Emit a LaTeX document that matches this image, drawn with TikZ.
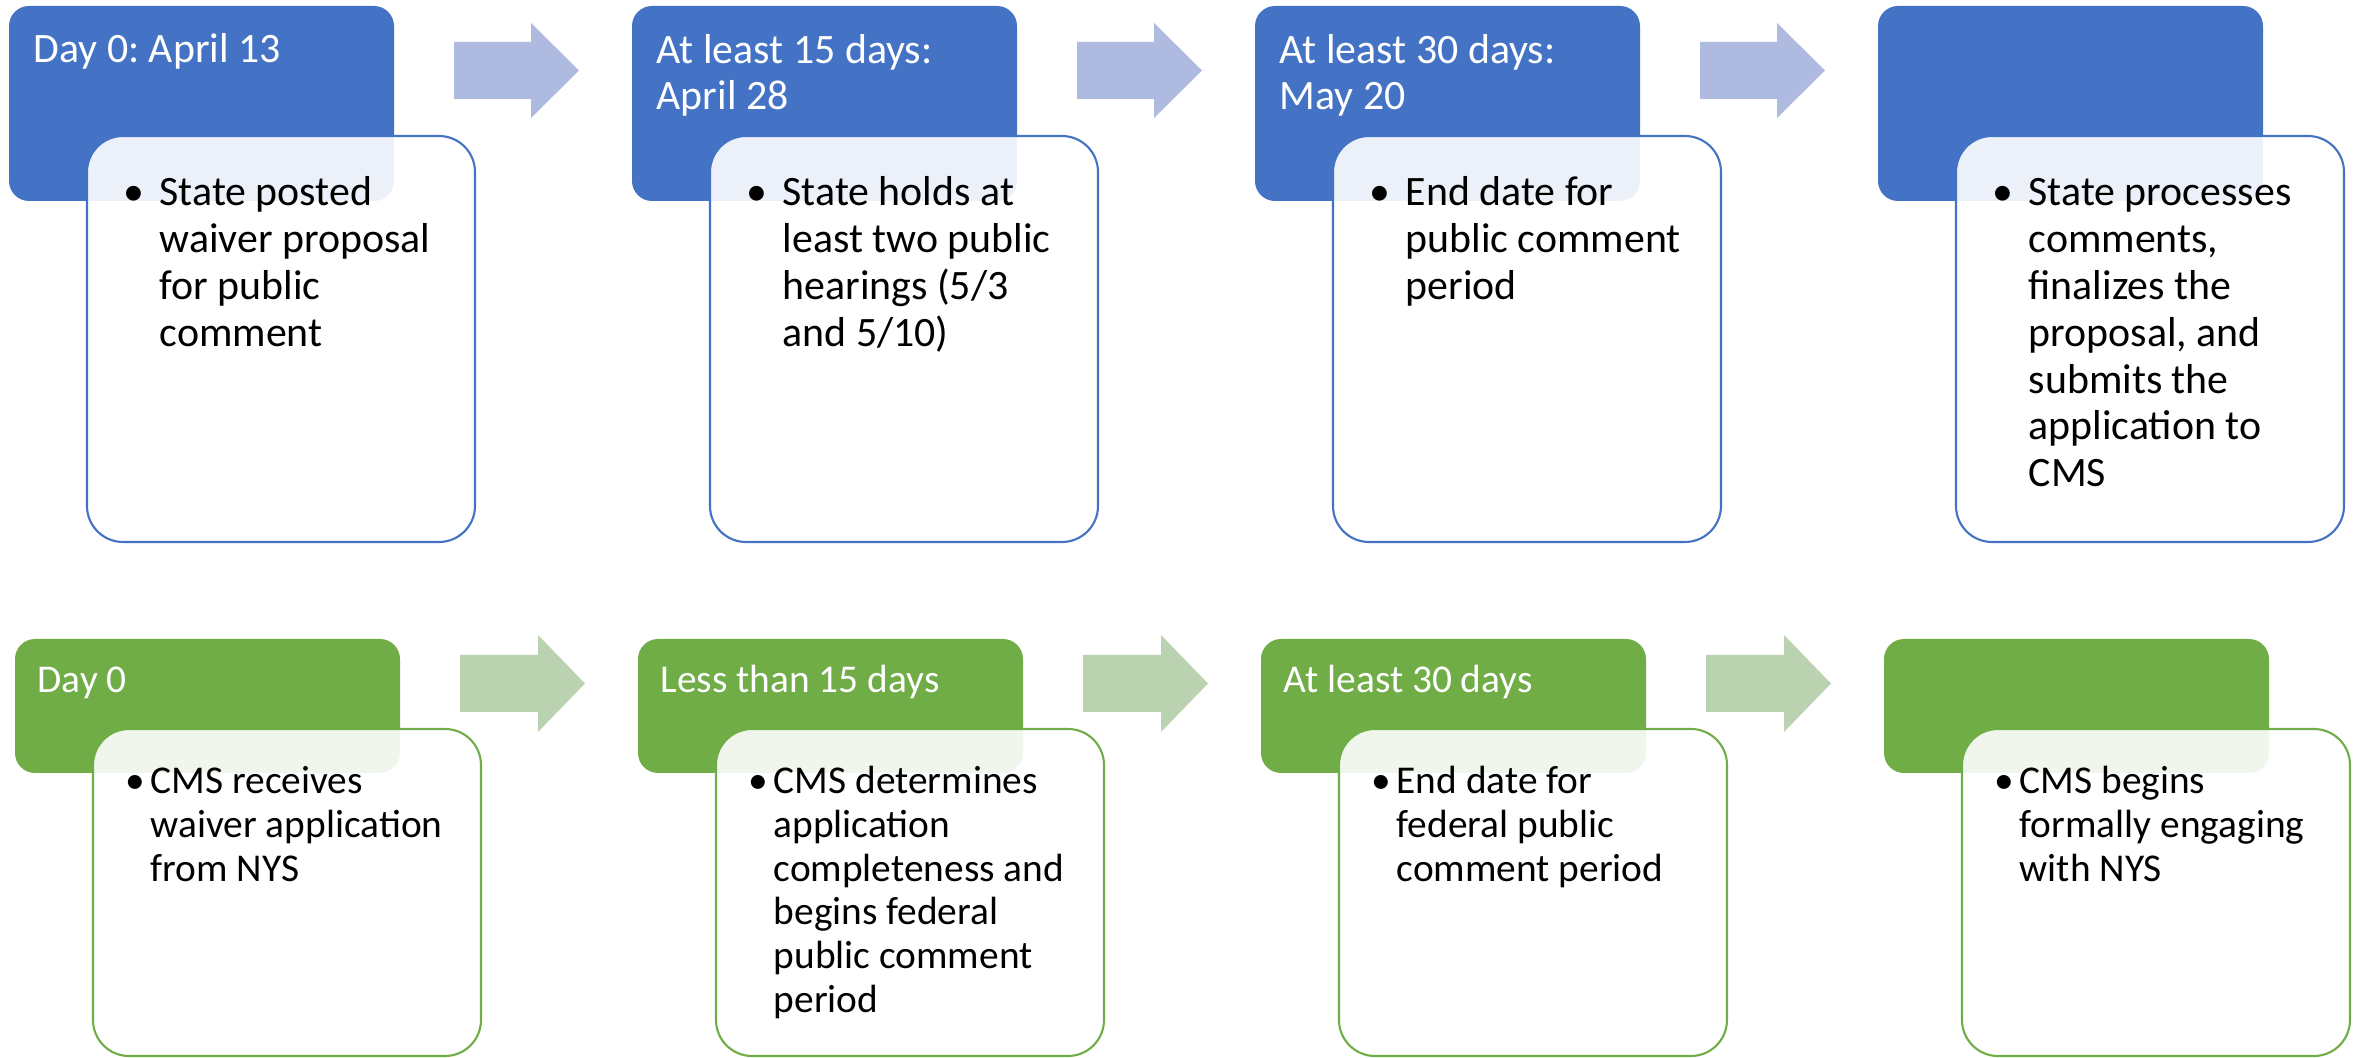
\documentclass[tikz,border=0pt]{standalone}
\usepackage{fontspec}
\setmainfont{Carlito}
\usetikzlibrary{positioning}
\frenchspacing

\definecolor{hdblue}{RGB}{68,114,196}
\definecolor{arblue}{RGB}{174,186,223}
\definecolor{hdgreen}{RGB}{112,173,71}
\definecolor{argreen}{RGB}{187,210,177}

\newcommand{\toprowfont}{\fontsize{11.9}{13.3}\selectfont}
\newcommand{\botrowfont}{\fontsize{11.2}{12.4}\selectfont}
\newcommand{\bulletlines}[2]{\makebox[0pt]{\textbullet}\hspace{#1}\begin{tabular}[t]{@{}l@{}}#2\end{tabular}}

\tikzset{
  header/.style={rounded corners=0.2cm},
  card/.style={fill=white, fill opacity=0.9, rounded corners=0.36cm, line width=0.6pt},
  headtext/.style={anchor=base west, inner sep=0pt, text=white, align=left},
  cardtext/.style={anchor=base west, inner sep=0pt}
}

\begin{document}
\begin{tikzpicture}[x=0.01cm,y=-0.01cm]
  \useasboundingbox (0,0) rectangle (2359,1058);

  % state timeline (top row)
  \foreach \i in {0,1,2,3} {
    \fill[hdblue, header, shift={(623*\i,0)}] (9,6) rectangle (394,201);
    \draw[card, draw=hdblue, shift={(623*\i,0)}] (87,136) rectangle (475,542);
  }
  \foreach \i in {0,1,2}
    \fill[arblue, shift={(623*\i,0)}] (454,42) -- (531,42) -- (531,23) -- (579,70.5)
      -- (531,118) -- (531,99) -- (454,99) -- cycle;

  % base of a two-line node is its last line
  \node[headtext, font=\toprowfont] (th1) at (33,63) {Day 0: April 13};
  \node[headtext, font=\toprowfont] (th2) at (656,110) {At least 15 days:\\April 28};
  \node[headtext, font=\toprowfont] (th3) at (1279,110) {At least 30 days:\\May 20};

  \node[cardtext, font=\toprowfont] (tb1) at (133,206)
    {\bulletlines{0.26cm}{State posted\\waiver proposal\\for public\\comment}};
  \node[cardtext, font=\toprowfont] (tb2) at (756,206)
    {\bulletlines{0.26cm}{State holds at\\least two public\\hearings (5/3\\and 5/10)}};
  \node[cardtext, font=\toprowfont] (tb3) at (1379,206)
    {\bulletlines{0.26cm}{End date for\\public comment\\period}};
  \node[cardtext, font=\toprowfont] (tb4) at (2002,206)
    {\bulletlines{0.26cm}{State processes\\comments,\\finalizes the\\proposal, and\\submits the\\application to\\CMS}};

  % federal timeline (bottom row)
  \foreach \i in {0,1,2,3} {
    \fill[hdgreen, header, shift={(623*\i,0)}] (15,639) rectangle (400,773);
    \draw[card, draw=hdgreen, shift={(623*\i,0)}] (93,729) rectangle (481,1056);
  }
  \foreach \i in {0,1,2}
    \fill[argreen, shift={(623*\i,0)}] (460,655) -- (538,655) -- (538,635) -- (585,683.5)
      -- (538,732) -- (538,712) -- (460,712) -- cycle;

  \node[headtext, font=\botrowfont] (bh1) at (37,693) {Day 0};
  \node[headtext, font=\botrowfont] (bh2) at (660,693) {Less than 15 days};
  \node[headtext, font=\botrowfont] (bh3) at (1283,693) {At least 30 days};

  \node[cardtext, font=\botrowfont] (bb1) at (135,794)
    {\bulletlines{0.15cm}{CMS receives\\waiver application\\from NYS}};
  \node[cardtext, font=\botrowfont] (bb2) at (758,794)
    {\bulletlines{0.15cm}{CMS determines\\application\\completeness and\\begins federal\\public comment\\period}};
  \node[cardtext, font=\botrowfont] (bb3) at (1381,794)
    {\bulletlines{0.15cm}{End date for\\federal public\\comment period}};
  \node[cardtext, font=\botrowfont] (bb4) at (2004,794)
    {\bulletlines{0.15cm}{CMS begins\\formally engaging\\with NYS}};
\end{tikzpicture}
\end{document}
